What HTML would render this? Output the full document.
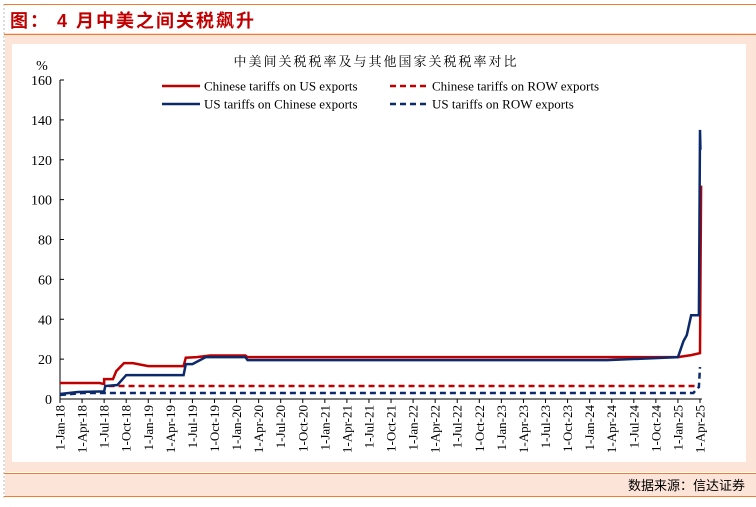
<!DOCTYPE html>
<html><head><meta charset="utf-8"><style>
body{margin:0;width:756px;height:502px;background:#fff;overflow:hidden;font-family:"Liberation Serif","Noto Serif CJK SC",serif}
</style></head><body>
<svg width="756" height="502" xmlns="http://www.w3.org/2000/svg">
<line x1="4" y1="4" x2="4" y2="500" stroke="#bbb" stroke-dasharray="2,2"/>
<line x1="4" y1="4.5" x2="756" y2="4.5" stroke="#ee7d31"/>
<text x="10" y="27" font-family="Liberation Sans,Noto Sans CJK SC,sans-serif" font-weight="bold" font-size="18" letter-spacing="2" fill="#c00000">图： 4 月中美之间关税飙升</text>
<line x1="4" y1="34.5" x2="756" y2="34.5" stroke="#ee7d31" stroke-width="1.5"/>
<rect x="5" y="35" width="751" height="437" fill="#fde4d9"/>
<rect x="12" y="44" width="734" height="418" fill="#fff"/>
<line x1="4" y1="473.5" x2="756" y2="473.5" stroke="#ee7d31"/>
<rect x="5" y="474" width="751" height="22" fill="#fde4d9"/>
<line x1="4" y1="496.5" x2="756" y2="496.5" stroke="#ee7d31"/>
<text x="745" y="490" text-anchor="end" font-family="Liberation Sans,Noto Sans CJK SC,sans-serif" font-size="13">数据来源：信达证券</text>
<text x="376" y="66" text-anchor="middle" font-size="13" letter-spacing="2">中美间关税税率及与其他国家关税税率对比</text>
<g id="legend" font-size="13"></g>
<g id="plot"></g>
</svg>
<script>
const xTicks=["1-Jan-18","1-Apr-18","1-Jul-18","1-Oct-18","1-Jan-19","1-Apr-19","1-Jul-19","1-Oct-19","1-Jan-20","1-Apr-20","1-Jul-20","1-Oct-20","1-Jan-21","1-Apr-21","1-Jul-21","1-Oct-21","1-Jan-22","1-Apr-22","1-Jul-22","1-Oct-22","1-Jan-23","1-Apr-23","1-Jul-23","1-Oct-23","1-Jan-24","1-Apr-24","1-Jul-24","1-Oct-24","1-Jan-25","1-Apr-25"];
const yTicks=[0,20,40,60,80,100,120,140,160];
// time in quarters since 1-Jan-18
const cnUsT=[0,1.8,2.0,2.0,2.4,2.55,2.9,3.3,4.0,5.6,5.7,6.2,6.8,8.4,8.5,28.0,28.3,28.6,28.8,29.0,29.02,29.05];
const cnUsV=[8,8,7.5,10,10,14,18,18,16.5,16.5,20.7,21,21.8,21.8,21,21,21.5,22,22.5,23,60,107];
const usCnT=[0,0.8,2.0,2.05,2.6,3.0,5.6,5.7,6.0,6.6,8.4,8.5,24.8,28.0,28.25,28.4,28.6,28.9,28.95,29.0,29.02];
const usCnV=[2.5,3.5,3.8,6.5,7,12,12,17.5,17.5,21,21,19.5,19.5,21,29,32,42,42,42,135,125];
const cnRowT=[2.2,29.0];
const cnRowV=[6.5,6.5];
const usRowT=[0,1.0,28.7,28.85,28.95,29.0];
const usRowV=[2,3,3,5,6,16];
const ns="http://www.w3.org/2000/svg";
const X0=60,X1=700,Y0=399,Y1=80;
const x=t=>X0+t*(X1-X0)/29, y=v=>Y0-v*(Y0-Y1)/160;
const plot=document.getElementById('plot');
function mk(tag,at,par){const e=document.createElementNS(ns,tag);for(const k in at)e.setAttribute(k,at[k]);(par||plot).appendChild(e);return e;}
let ax=mk('line',{x1:X0,y1:Y1,x2:X0,y2:Y0,stroke:'#000'});

let bx=mk('line',{x1:X0,y1:Y0,x2:X1+2,y2:Y0,stroke:'#000'});

let pu=mk('text',{x:42,y:70,'text-anchor':'middle','font-size':'14'});pu.textContent='%';

yTicks.forEach(v=>{mk('line',{x1:X0,x2:X0+4,y1:y(v),y2:y(v),stroke:'#000'});
 const t=mk('text',{x:X0-8,y:y(v)+5,'text-anchor':'end','font-size':'14'});t.textContent=v;
 });
xTicks.forEach((s,i)=>{mk('line',{x1:x(i),x2:x(i),y1:Y0,y2:Y0+4,stroke:'#000'});
 const t=mk('text',{transform:`translate(${x(i)+4.5},${Y0+6}) rotate(-90)`,'text-anchor':'end','font-size':'13'});t.textContent=s;
 });
function line(T,V,col,dash,name){const p=mk('polyline',{points:T.map((t,i)=>x(t)+','+y(V[i])).join(' '),fill:'none',stroke:col,'stroke-width':2.5,'stroke-dasharray':dash||'none'});
 }
line(cnRowT,cnRowV,'#c00000','6,4','series-cn-row');
line(usRowT,usRowV,'#0c2a6b','6,4','series-us-row');
line(cnUsT,cnUsV,'#c00000','','series-cn-on-us');
line(usCnT,usCnV,'#0c2a6b','','series-us-on-cn');
const lg=document.getElementById('legend');
[[162,86,'#c00000','','Chinese tariffs on US exports'],[390,86,'#c00000','6,4','Chinese tariffs on ROW exports'],[162,104,'#0c2a6b','','US tariffs on Chinese exports'],[390,104,'#0c2a6b','6,4','US tariffs on ROW exports']].forEach(a=>{
 const g=mk('g',{},lg);
 mk('line',{x1:a[0],x2:a[0]+38,y1:a[1],y2:a[1],stroke:a[2],'stroke-width':2.5,'stroke-dasharray':a[3]||'none'},g);
 const t=mk('text',{x:a[0]+42,y:a[1]+4.5},g);t.textContent=a[4];});
</script>
</body></html>
